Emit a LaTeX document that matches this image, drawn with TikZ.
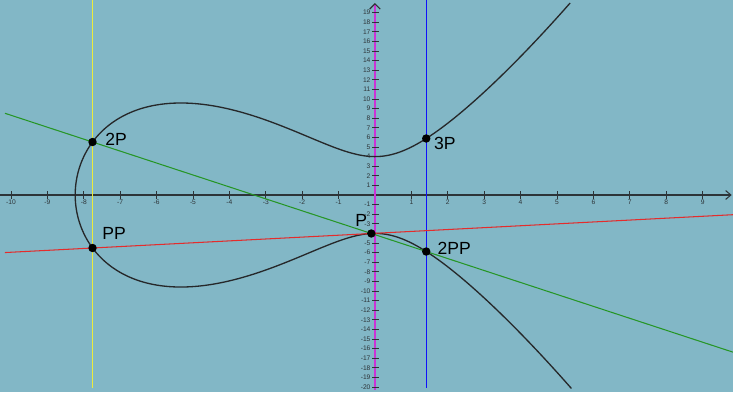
\documentclass[tikz,border=0pt]{standalone}
\usepackage{fontspec}
\setmainfont{Liberation Sans}
\usetikzlibrary{arrows.meta,calc}
\definecolor{bgblue}{RGB}{130,183,198}
\definecolor{axgray}{RGB}{45,52,56}
\definecolor{axmag}{RGB}{204,51,214}
\definecolor{crvgray}{RGB}{38,40,42}
\definecolor{lgreen}{RGB}{38,150,38}
\definecolor{lred}{RGB}{228,44,44}
\definecolor{lyellow}{RGB}{236,236,60}
\definecolor{lblue}{RGB}{16,16,250}
\tikzset{
  axx/.style={axgray, line width=0.6pt, -{Straight Barb[length=3pt,width=5pt]}},
  axy/.style={axmag, line width=0.9pt, -{Straight Barb[length=3pt,width=6pt,color=axgray,line width=0.7pt]}},
  tck/.style={axgray, line width=0.4pt},
  tlab/.style={font=\fontsize{3.8}{4}\selectfont, text=axgray, inner sep=0.4pt},
  crv/.style={crvgray, line width=0.75pt},
  sline/.style={line width=0.6pt},
  ptdot/.style={circle, fill=black, inner sep=0pt, minimum size=4.8pt},
  ptlab/.style={font=\fontsize{10}{12}\selectfont, inner sep=0pt},
}

\begin{document}
\begin{tikzpicture}[x=0.728cm, y=0.192cm]
  \useasboundingbox (-10.302,-20.521) rectangle (9.835,20.3125);
  \fill[bgblue] (-10.302,-20.521) rectangle (9.835,20.3125);
  \coordinate (top) at (0,20.3125);
  \coordinate (bot) at (0,-20.15);
  % points of the curve y^2 = x^3 + 8x^2 + 16
  \coordinate (pP) at (-0.1,-4.01);
  \coordinate (pPP) at (-7.76,-5.52);
  \coordinate (pTwoP) at (-7.76,5.52);
  \coordinate (pTwoPP) at (1.408,-5.886);
  \coordinate (pThreeP) at (1.408,5.886);

  % axes
  \draw[axx] (-10.302,0) -- (9.8,0);
  \foreach \i in {-10,...,9} {
    \ifnum\i=0\else
      \draw[tck] ([yshift=-2pt]\i,0) -- ([yshift=2pt]\i,0);
      \node[tlab, anchor=north] at ([yshift=-2.2pt]\i,0) {\i};
    \fi
  }
  \draw[axy] (0,-20.3) -- (0,20.0);
  \foreach \j in {-20,...,19} {
    \ifnum\j=0\else
      \draw[tck] ([xshift=-1.6pt]0,\j) -- ([xshift=2.4pt]0,\j);
      \node[tlab, anchor=east] at ([xshift=-2pt]0,\j) {\j};
    \fi
  }

  % vertical lines
  \draw[sline, lyellow] (pTwoP |- top) -- (pTwoP |- bot);
  \draw[sline, lblue] (pThreeP |- top) -- (pThreeP |- bot);

  % the curve
  \begin{scope}
    \clip (-10.302,-20.521) rectangle (9.835,20.3125);
    \draw[crv] plot[domain=-3.692:3.690, samples=320, smooth, variable=\t]
      ({-8.2359+\t*\t}, {\t*sqrt((-8.2359+\t*\t)^2 - 0.2359*(-8.2359+\t*\t) + 1.9427)});
  \end{scope}

  % secant and tangent
  \draw[sline, lred] ($(pPP)!-0.314!(pP)$) -- ($(pPP)!2.297!(pP)$);
  \draw[sline, lgreen] ($(pTwoP)!-0.314!(pP)$) -- ($(pTwoP)!2.297!(pP)$);

  % points and labels
  \node[ptdot] (dP) at (pP) {};
  \node[ptdot] (dPP) at (pPP) {};
  \node[ptdot] (dTwoP) at (pTwoP) {};
  \node[ptdot] (dTwoPP) at (pTwoPP) {};
  \node[ptdot] (dThreeP) at (pThreeP) {};
  \node[ptlab] (lP) at ([shift={(-0.2cm,0.26cm)}]pP) {P};
  \node[ptlab] (lPP) at ([shift={(0.43cm,0.3cm)}]pPP) {PP};
  \node[ptlab] (lTwoP) at ([shift={(0.47cm,0.06cm)}]pTwoP) {2P};
  \node[ptlab] (lTwoPP) at ([shift={(0.56cm,0.07cm)}]pTwoPP) {2PP};
  \node[ptlab] (lThreeP) at ([shift={(0.37cm,-0.09cm)}]pThreeP) {3P};
\end{tikzpicture}
\end{document}
